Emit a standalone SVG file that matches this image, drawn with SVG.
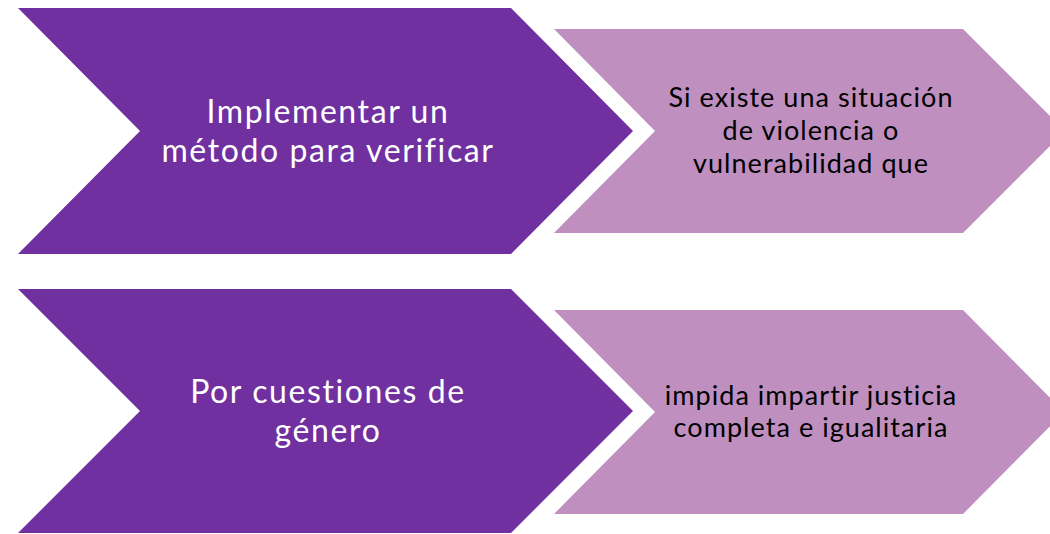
<svg xmlns="http://www.w3.org/2000/svg" width="1050" height="534" viewBox="0 0 1050 534">
  <style>
    .dark { fill: #7030A0; }
    .light { fill: #BF8FC0; }
    .tdark { font-family: Lato, "Liberation Sans", sans-serif; font-size: 32px; letter-spacing: 1.6px; font-variant-ligatures: none; fill: #FFFFFF; text-anchor: middle; }
    .tlight { font-family: Lato, "Liberation Sans", sans-serif; font-size: 27px; letter-spacing: 1.05px; font-variant-ligatures: none; fill: #000000; text-anchor: middle; }
  </style>
  <rect width="1050" height="534" fill="#FFFFFF"/>
  <g id="node-implementar">
    <polygon class="dark" points="18,8 511,8 633,131 511,254 18,254 140,131"/>
    <text class="tdark" x="328" y="123">Implementar un</text>
    <text class="tdark" x="328" y="162">método para verificar</text>
  </g>
  <g id="node-si-existe">
    <polygon class="light" points="554,29 963,29 1065,131 963,233 554,233 655,131"/>
    <text class="tlight" x="811" y="107">Si existe una situación</text>
    <text class="tlight" x="811" y="140">de violencia o</text>
    <text class="tlight" x="811" y="173">vulnerabilidad que</text>
  </g>
  <g id="node-por-cuestiones">
    <polygon class="dark" points="18,289 511,289 633,411 511,533 18,533 140,411"/>
    <text class="tdark" x="328" y="403">Por cuestiones de</text>
    <text class="tdark" x="328" y="442">género</text>
  </g>
  <g id="node-impida">
    <polygon class="light" points="554,310 963,310 1064,412 963,514 554,514 655,412"/>
    <text class="tlight" x="811" y="405">impida impartir justicia</text>
    <text class="tlight" x="811" y="437">completa e igualitaria</text>
  </g>
  <g id="connectors"></g>
</svg>
